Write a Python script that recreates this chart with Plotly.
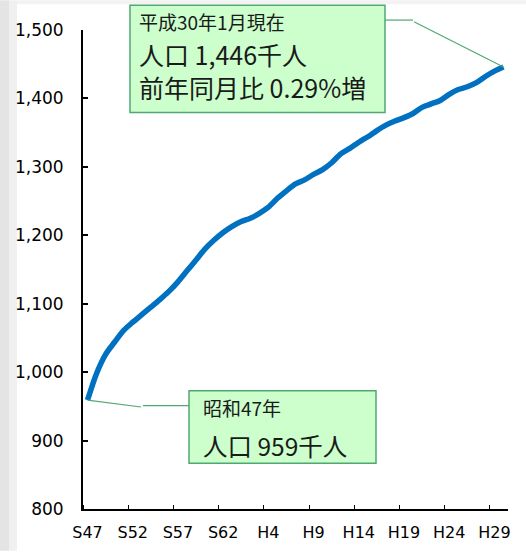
import plotly.graph_objects as go

# Categories: January of each year, Showa 47 (1972) to Heisei 30 (2018)
categories = ["S47", "S48", "S49", "S50", "S51", "S52", "S53", "S54", "S55", "S56",
              "S57", "S58", "S59", "S60", "S61", "S62", "S63",
              "H1", "H2", "H3", "H4", "H5", "H6", "H7", "H8", "H9", "H10",
              "H11", "H12", "H13", "H14", "H15", "H16", "H17", "H18", "H19", "H20",
              "H21", "H22", "H23", "H24", "H25", "H26", "H27", "H28", "H29", "H30"]
# Population (thousands)
population = [959, 998, 1026, 1044, 1061, 1073, 1084, 1095, 1106, 1118,
              1132, 1148, 1164, 1180, 1193, 1204, 1213,
              1220, 1225, 1232, 1241, 1254, 1265, 1275, 1281, 1289, 1296,
              1306, 1319, 1327, 1336, 1344, 1353, 1361, 1367, 1372, 1378,
              1387, 1392, 1397, 1406, 1413, 1417, 1423, 1432, 1440, 1446]
tick_labels = ["S47", "S52", "S57", "S62", "H4", "H9", "H14", "H19", "H24", "H29"]
y_ticks = [800, 900, 1000, 1100, 1200, 1300, 1400, 1500]

x_idx = list(range(len(categories)))
tick_pos = [categories.index(t) for t in tick_labels]

GREEN_FILL = "#ccffcc"
GREEN_LINE = "#4fa874"
CJK = "Noto Sans CJK JP"
TXT = "#1a1a1a"

W, H = 526, 554
# plot area in page pixels: x 83..508, y 30..512
PL, PR, PT, PB = 83, 508, 30, 512
L, R, T, B = PL, W - PR, PT, H - PB
pw, ph = PR - PL, PB - PT


def px(xp):
    return (xp - PL) / pw


def py(yp):
    return (PB - yp) / ph


shapes = [
    # page background strips
    dict(type="rect", xref="paper", yref="paper", x0=px(0), x1=px(9), y0=py(H), y1=py(0),
         fillcolor="#e4e4e4", line=dict(width=0), layer="below"),
    dict(type="rect", xref="paper", yref="paper", x0=px(9), x1=px(17), y0=py(H), y1=py(0),
         fillcolor="#f0f0f0", line=dict(width=0), layer="below"),
    dict(type="rect", xref="paper", yref="paper", x0=px(17), x1=px(W), y0=py(4), y1=py(0),
         fillcolor="#f3f3f3", line=dict(width=0), layer="below"),
    # callout boxes
    dict(type="rect", xref="paper", yref="paper", x0=px(130), x1=px(385), y0=py(113), y1=py(5),
         fillcolor=GREEN_FILL, line=dict(color=GREEN_LINE, width=1.5)),
    dict(type="rect", xref="paper", yref="paper", x0=px(189), x1=px(376), y0=py(466), y1=py(393),
         fillcolor=GREEN_FILL, line=dict(color=GREEN_LINE, width=1.5)),
    # horizontal parts of leader lines
    dict(type="line", xref="paper", yref="paper", x0=px(385), x1=px(413), y0=py(20), y1=py(20),
         line=dict(color=GREEN_LINE, width=1.2)),
    dict(type="line", xref="paper", yref="paper", x0=px(143), x1=px(189), y0=py(408), y1=py(408),
         line=dict(color=GREEN_LINE, width=1.2)),
]

annotations = [
    # diagonal leader parts anchored at data points
    dict(x=x_idx[-1], y=population[-1], xref="x", yref="y", text="", showarrow=True,
         arrowhead=0, arrowwidth=1.2, arrowcolor=GREEN_LINE, ax=-91, ay=-46, standoff=0),
    dict(x=x_idx[0], y=population[0], xref="x", yref="y", text="", showarrow=True,
         arrowhead=0, arrowwidth=1.2, arrowcolor=GREEN_LINE, ax=55, ay=7, standoff=0),
    # box 1 texts
    dict(x=px(137), y=py(21), xref="paper", yref="paper", xanchor="left", yanchor="middle",
         text="平成30年1月現在", showarrow=False, font=dict(family=CJK, size=19, color=TXT)),
    dict(x=px(137), y=py(54), xref="paper", yref="paper", xanchor="left", yanchor="middle",
         text="人口 1,446千人", showarrow=False, font=dict(family=CJK, size=25, color=TXT)),
    dict(x=px(137), y=py(87), xref="paper", yref="paper", xanchor="left", yanchor="middle",
         text="前年同月比 0.29%増", showarrow=False, font=dict(family=CJK, size=25, color=TXT)),
    # box 2 texts
    dict(x=px(201), y=py(410), xref="paper", yref="paper", xanchor="left", yanchor="middle",
         text="昭和47年", showarrow=False, font=dict(family=CJK, size=19, color=TXT)),
    dict(x=px(201), y=py(448), xref="paper", yref="paper", xanchor="left", yanchor="middle",
         text="人口 959千人", showarrow=False, font=dict(family=CJK, size=24.5, color=TXT)),
]

fig = go.Figure()
fig.add_trace(go.Scatter(
    x=x_idx, y=population, mode="lines",
    line=dict(color="#0070C0", width=5.5, shape="spline", smoothing=0.8),
    hoverinfo="skip", showlegend=False,
))

fig.update_layout(
    width=W, height=H,
    margin=dict(l=L, r=R, t=T, b=B, pad=0),
    paper_bgcolor="white", plot_bgcolor="white",
    shapes=shapes, annotations=annotations,
    xaxis=dict(
        range=[-0.5, len(categories) - 0.5],
        tickmode="array", tickvals=tick_pos, ticktext=tick_labels,
        ticks="", showgrid=False, zeroline=False,
        showline=True, linecolor="black", linewidth=2,
        tickfont=dict(family="DejaVu Sans", size=16, color="black"),
        ticklabelstandoff=8,
        minor=dict(tick0=-0.5, dtick=5, ticks="inside", ticklen=4, tickwidth=1.2,
                   tickcolor="black", showgrid=False),
    ),
    yaxis=dict(
        range=[800, 1500], tickmode="array", tickvals=y_ticks,
        tickformat=",d", ticks="inside", ticklen=5, tickwidth=1.5, tickcolor="black",
        showgrid=False, zeroline=False,
        showline=True, linecolor="black", linewidth=2,
        tickfont=dict(family="DejaVu Sans", size=17, color="black"),
        ticklabelstandoff=14,
    ),
)

fig.write_html(
    "out.html",
    config={"displayModeBar": False},
    post_script="document.body.style.margin='0';document.body.style.overflow='hidden';",
)
